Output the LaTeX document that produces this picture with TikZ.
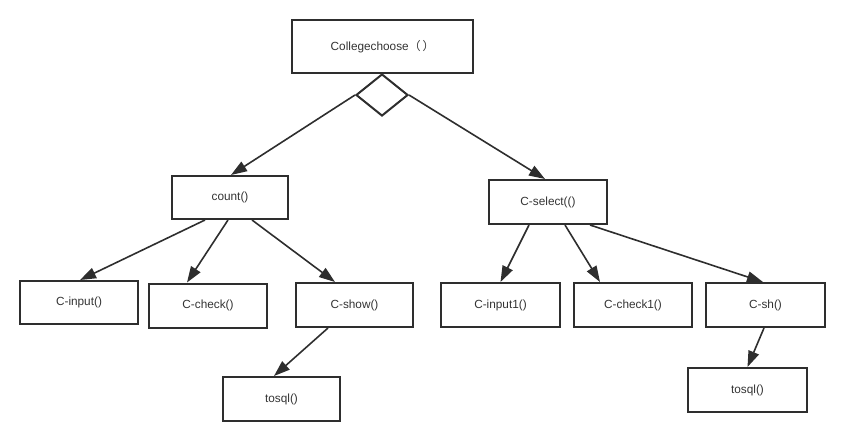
\documentclass[tikz,border=0pt]{standalone}
\usepackage{fontspec}
\setmainfont{Liberation Sans}
\newfontfamily\cjkfont{Noto Sans CJK SC}
\usetikzlibrary{arrows.meta,shapes.geometric}
\definecolor{ink}{HTML}{2E2E2E}
\definecolor{txt}{HTML}{333333}
\begin{document}
\begin{tikzpicture}[x=1pt,y=-1pt,
  fnbox/.style={draw=ink,line width=2pt,rectangle,inner sep=0pt,
    minimum height=44pt,text=txt,font=\fontsize{11.8}{14}\selectfont},
  link/.style={draw=ink,line width=1.6pt,-{Triangle[length=16pt,width=11pt]}}]
\useasboundingbox (0,0) rectangle (844,440);

% root function and its branch point
\node[fnbox,minimum width=181pt,minimum height=53pt] (root) at (382.5,46.5)
  {Collegechoose{\cjkfont （}\,{\cjkfont ）}};
\node[draw=ink,line width=2pt,diamond,shape aspect=1.24,inner sep=0pt,
  minimum width=52pt,minimum height=42pt] (branch) at (382,95) {};

% second level
\node[fnbox,minimum width=116pt,minimum height=43pt] (count) at (230,197.5) {count()};
\node[fnbox,minimum width=118pt] (csel) at (548,202) {C-select(()};

% third level
\node[fnbox,minimum width=118pt,minimum height=43pt] (cinput) at (79,302.5) {C-input()};
\node[fnbox,minimum width=118pt] (ccheck) at (208,305.5) {C-check()};
\node[fnbox,minimum width=117pt] (cshow) at (354.5,305) {C-show()};
\node[fnbox,minimum width=119pt] (cinput1) at (500.5,305) {C-input1()};
\node[fnbox,minimum width=118pt] (ccheck1) at (633,305) {C-check1()};
\node[fnbox,minimum width=119pt] (csh) at (765.5,305) {C-sh()};

% fourth level
\node[fnbox,minimum width=117pt] (tosqlA) at (281.5,399) {tosql()};
\node[fnbox,minimum width=119pt] (tosqlB) at (747.5,390) {tosql()};

% connectors
\draw[link] (branch.west) -- ([xshift=1pt]count.north);
\draw[link] (branch.east) -- ([xshift=-3pt]csel.north);

\draw[link] ([xshift=-25pt]count.south) -- ([xshift=1pt]cinput.north);
\draw[link] ([xshift=-2pt]count.south) -- ([xshift=-21pt]ccheck.north);
\draw[link] ([xshift=22pt]count.south) -- ([xshift=-19.5pt]cshow.north);
\draw[link] ([xshift=-26.5pt]cshow.south) -- ([xshift=-7.5pt]tosqlA.north);

\draw[link] ([xshift=-19pt]csel.south) -- (cinput1.north);
\draw[link] ([xshift=17pt]csel.south) -- ([xshift=-33pt]ccheck1.north);
\draw[link] ([xshift=42pt]csel.south) -- ([xshift=-2.5pt]csh.north);
\draw[link] ([xshift=-1.5pt]csh.south) -- (tosqlB.north);
\end{tikzpicture}
\end{document}
